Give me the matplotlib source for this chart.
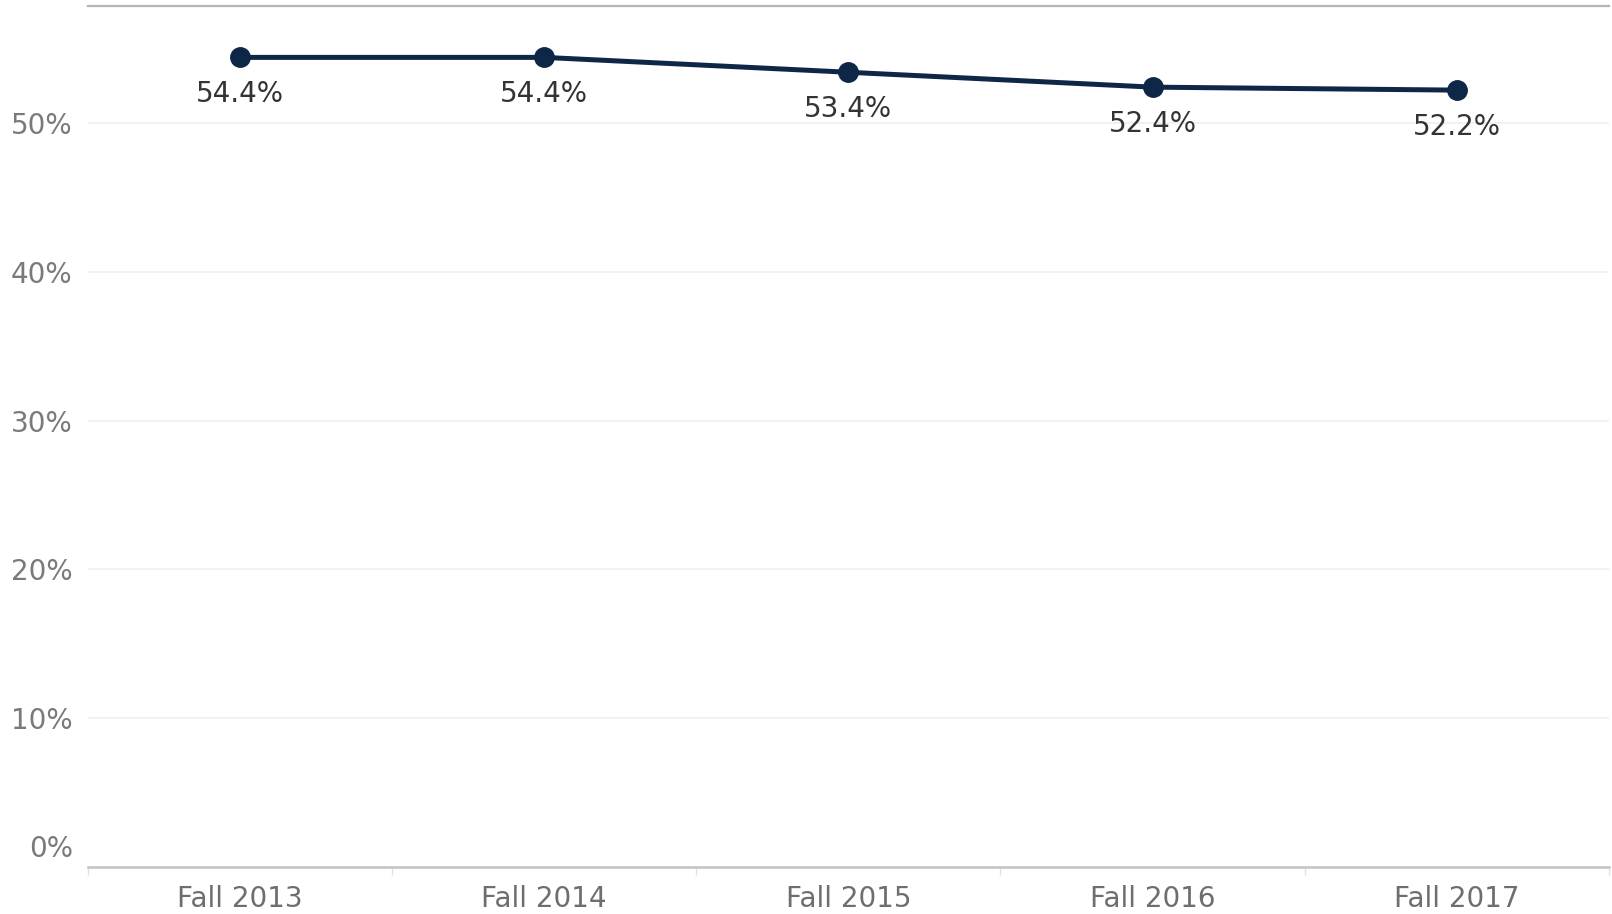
import matplotlib.pyplot as plt
import matplotlib.transforms as mtransforms
import numpy as np

terms = ["Fall 2013", "Fall 2014", "Fall 2015", "Fall 2016", "Fall 2017"]
rates = [54.4, 54.4, 53.4, 52.4, 52.2]
y_ticks = [0, 10, 20, 30, 40, 50]

plt.rcParams['font.family'] = ['DejaVu Sans']

fig = plt.figure(figsize=(16.12, 9.14), dpi=100)
ax = fig.add_axes([0.0546, 0.0514, 0.9434, 0.942])

x = np.arange(len(terms))
ax.plot(x, rates, color='#0f2747', linewidth=3.6, marker='o', markersize=14,
        solid_capstyle='round', zorder=3)

for xi, v in zip(x, rates):
    ax.annotate(f"{v:.1f}%", (xi, v), xytext=(0, -26.5), textcoords='offset points',
                ha='center', va='center', fontsize=20, color='#333333')

ax.set_xlim(-0.5, len(terms) - 0.5)
ax.set_ylim(0, 57.85)

ax.set_yticks(y_ticks)
ax.set_yticklabels([f"{t}%" for t in y_ticks])
ax.set_xticks(x)
ax.set_xticklabels(terms)
ax.set_xticks(np.arange(-0.5, len(terms)), minor=True)

ax.tick_params(axis='y', length=0, pad=11, labelsize=20, labelcolor='#7a7a7a')
ax.tick_params(axis='x', which='major', length=0, pad=13, labelsize=20, labelcolor='#6e6e6e')
ax.tick_params(axis='x', which='minor', length=6, width=1, color='#e2e2e2')

# Tableau nudges the bottom label up so it sits above the axis line
zero_lbl = ax.get_yticklabels()[0]
zero_lbl.set_va('bottom')
zero_lbl.set_transform(zero_lbl.get_transform() +
                       mtransforms.ScaledTranslation(0, 4 / 100, fig.dpi_scale_trans))

ax.grid(axis='y', color='#efefef', linewidth=1.2)
ax.set_axisbelow(True)

for side in ['left', 'right']:
    ax.spines[side].set_visible(False)
ax.spines['top'].set_color('#b4b4b4')
ax.spines['top'].set_linewidth(1.6)
ax.spines['bottom'].set_color('#c4c4c4')
ax.spines['bottom'].set_linewidth(1.8)

fig.savefig("out.png", dpi=100)
